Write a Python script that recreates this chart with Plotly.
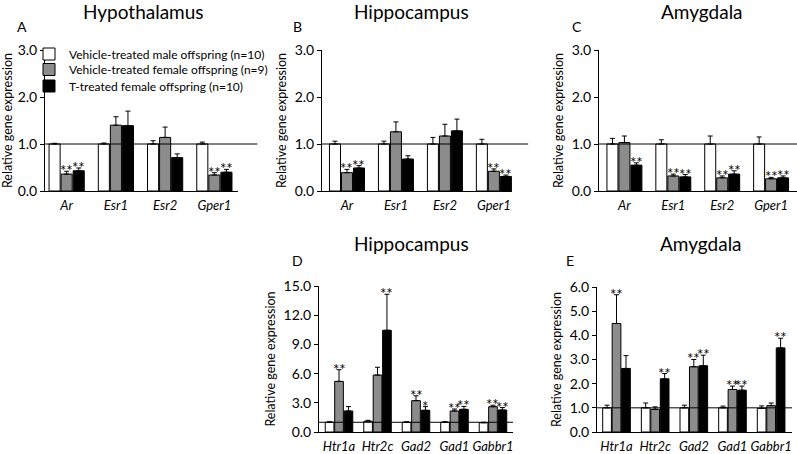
import plotly.graph_objects as go

genes_top = ["Ar", "Esr1", "Esr2", "Gper1"]
genes_bottom = ["Htr1a", "Htr2c", "Gad2", "Gad1", "Gabbr1"]
series_names = ["Vehicle-treated male offspring (n=10)",
                "Vehicle-treated female offspring (n=9)",
                "T-treated female offspring (n=10)"]

# Panel A - Hypothalamus
a_male = [1.00, 1.00, 1.00, 1.00]
a_male_err = [0.015, 0.02, 0.07, 0.04]
a_vfem = [0.36, 1.40, 1.14, 0.34]
a_vfem_err = [0.06, 0.18, 0.22, 0.05]
a_tfem = [0.43, 1.39, 0.71, 0.40]
a_tfem_err = [0.06, 0.31, 0.08, 0.06]
a_sig_v = ["**", "", "", "**"]
a_sig_t = ["**", "", "", "**"]

# Panel B - Hippocampus
b_male = [1.00, 1.00, 1.00, 1.00]
b_male_err = [0.06, 0.06, 0.14, 0.10]
b_vfem = [0.39, 1.26, 1.17, 0.42]
b_vfem_err = [0.07, 0.21, 0.25, 0.05]
b_tfem = [0.49, 0.68, 1.28, 0.31]
b_tfem_err = [0.05, 0.07, 0.25, 0.03]
b_sig_v = ["**", "", "", "**"]
b_sig_t = ["**", "", "", "**"]

# Panel C - Amygdala
c_male = [1.00, 1.00, 1.00, 1.00]
c_male_err = [0.12, 0.09, 0.17, 0.15]
c_vfem = [1.03, 0.32, 0.28, 0.26]
c_vfem_err = [0.14, 0.04, 0.04, 0.03]
c_tfem = [0.55, 0.30, 0.36, 0.28]
c_tfem_err = [0.05, 0.05, 0.07, 0.04]
c_sig_v = ["", "**", "**", "**"]
c_sig_t = ["**", "**", "**", "**"]

# Panel D - Hippocampus
d_male = [1.00, 1.10, 1.00, 1.00, 0.95]
d_male_err = [0.05, 0.10, 0.05, 0.05, 0.05]
d_vfem = [5.20, 5.85, 3.22, 2.16, 2.60]
d_vfem_err = [1.20, 0.80, 0.50, 0.20, 0.15]
d_tfem = [2.16, 10.45, 2.23, 2.33, 2.26]
d_tfem_err = [0.45, 3.70, 0.38, 0.30, 0.25]
d_sig_v = ["**", "", "**", "**", "**"]
d_sig_t = ["", "**", "*", "**", "**"]

# Panel E - Amygdala
e_male = [1.00, 1.00, 1.00, 1.00, 0.98]
e_male_err = [0.11, 0.20, 0.11, 0.07, 0.10]
e_vfem = [4.49, 0.94, 2.70, 1.76, 1.09]
e_vfem_err = [1.19, 0.10, 0.30, 0.14, 0.11]
e_tfem = [2.63, 2.20, 2.74, 1.73, 3.48]
e_tfem_err = [0.53, 0.22, 0.44, 0.17, 0.40]
e_sig_v = ["**", "", "**", "**", ""]
e_sig_t = ["", "**", "**", "**", "**"]

FONT = "Lato, Open Sans, sans-serif"
colors = ["#ffffff", "#8c8c8c", "#000000"]
offsets = [-0.245, 0.0, 0.245]
bar_w = 0.225

W, H = 797, 454


def px_x(a, b):
    return [a / W, b / W]


def px_y(bottom, top):
    return [(H - bottom) / H, (H - top) / H]


panels = [
    dict(genes=genes_top, vals=[a_male, a_vfem, a_tfem], errs=[a_male_err, a_vfem_err, a_tfem_err],
         sig=[None, a_sig_v, a_sig_t], dx=px_x(45, 238), dy=px_y(191, 50), xr=[-0.44, 3.48],
         yr=[0, 3], dt=1.0, title="Hypothalamus", tcx=143, tcy=12, letter="A", lx=22, ly=26,
         legend=True, hx1=1.10),
    dict(genes=genes_top, vals=[b_male, b_vfem, b_tfem], errs=[b_male_err, b_vfem_err, b_tfem_err],
         sig=[None, b_sig_v, b_sig_t], dx=px_x(322, 512), dy=px_y(191, 50), xr=[-0.51, 3.37],
         yr=[0, 3], dt=1.0, title="Hippocampus", tcx=411, tcy=12, letter="B", lx=297, ly=26,
         legend=False, hx1=1.085),
    dict(genes=genes_top, vals=[c_male, c_vfem, c_tfem], errs=[c_male_err, c_vfem_err, c_tfem_err],
         sig=[None, c_sig_v, c_sig_t], dx=px_x(599, 797), dy=px_y(191, 50), xr=[-0.52, 3.53],
         yr=[0, 3], dt=1.0, title="Amygdala", tcx=702, tcy=12, letter="C", lx=577, ly=26,
         legend=False, hx1=1.0),
    dict(genes=genes_bottom, vals=[d_male, d_vfem, d_tfem], errs=[d_male_err, d_vfem_err, d_tfem_err],
         sig=[None, d_sig_v, d_sig_t], dx=px_x(319, 513), dy=px_y(432, 286), xr=[-0.52, 4.52],
         yr=[0, 15], dt=3.0, title="Hippocampus", tcx=411, tcy=243, letter="D", lx=297, ly=260,
         legend=False, hx1=1.0),
    dict(genes=genes_bottom, vals=[e_male, e_vfem, e_tfem], errs=[e_male_err, e_vfem_err, e_tfem_err],
         sig=[None, e_sig_v, e_sig_t], dx=px_x(597, 792), dy=px_y(432, 287), xr=[-0.505, 4.54],
         yr=[0, 6], dt=1.0, title="Amygdala", tcx=701, tcy=243, letter="E", lx=570, ly=260,
         legend=False, hx1=1.0),
]

legend_names = ["legend", "legend2", "legend3"]
legend_rows = [54, 69.5, 86]

fig = go.Figure()
layout = dict(width=W, height=H, margin=dict(l=0, r=0, t=0, b=0, autoexpand=False),
              paper_bgcolor="white", plot_bgcolor="white",
              font=dict(family=FONT, size=13, color="black"),
              barmode="overlay", showlegend=True,
              shapes=[], annotations=[])
for ln, ry in zip(legend_names, legend_rows):
    layout[ln] = dict(x=29 / W, y=(H - ry) / H, xanchor="left", yanchor="middle",
                      font=dict(size=12, family=FONT), bgcolor="rgba(0,0,0,0)",
                      tracegroupgap=0, itemwidth=30, borderwidth=0)

for pi, p in enumerate(panels):
    n = pi + 1
    xa = "x" if n == 1 else f"x{n}"
    ya = "y" if n == 1 else f"y{n}"
    xkey = "xaxis" if n == 1 else f"xaxis{n}"
    ykey = "yaxis" if n == 1 else f"yaxis{n}"
    idx = list(range(len(p["genes"])))
    for k in range(3):
        xs = [i + offsets[k] for i in idx]
        fig.add_trace(go.Bar(
            x=xs, y=p["vals"][k], width=bar_w, name=series_names[k],
            marker=dict(color=colors[k], line=dict(color="black", width=1)),
            error_y=dict(type="data", symmetric=False, array=p["errs"][k],
                         arrayminus=[0] * len(idx), color="black", thickness=1, width=2.5),
            showlegend=p["legend"], legend=legend_names[k], xaxis=xa, yaxis=ya,
            hoverinfo="skip"))
        if p["sig"][k] is not None:
            for xv, v, e, s in zip(xs, p["vals"][k], p["errs"][k], p["sig"][k]):
                if s:
                    layout["annotations"].append(dict(
                        x=xv, y=v + e, xref=xa, yref=ya, text=s, showarrow=False,
                        xanchor="center", yanchor="middle", yshift=1,
                        font=dict(size=15, family=FONT, color="#000000")))
    ymax = p["yr"][1]
    ticks = [round(t * p["dt"], 6) for t in range(int(round(ymax / p["dt"])) + 1)]
    layout[xkey] = dict(domain=p["dx"], range=p["xr"], anchor=ya, showgrid=False, zeroline=False,
                        showline=True, linecolor="black", linewidth=1, ticks="",
                        tickvals=idx, ticktext=[f"<i>{g}</i>" for g in p["genes"]],
                        tickfont=dict(size=13, family=FONT), fixedrange=True, automargin=False,
                        ticklabelstandoff=2, tickangle=0)
    layout[ykey] = dict(domain=p["dy"], range=p["yr"], anchor=xa, showgrid=False, zeroline=False,
                        showline=True, linecolor="black", linewidth=1, ticks="outside",
                        ticklen=4, tickwidth=1, tickcolor="black", tickvals=ticks,
                        tickformat=".1f", tickfont=dict(size=14, family=FONT), automargin=False,
                        fixedrange=True,
                        title=dict(text="Relative gene expression", font=dict(size=12.5, family=FONT),
                                   standoff=5))
    layout["shapes"].append(dict(type="line", xref=f"{xa} domain", yref=ya, x0=0, x1=p["hx1"],
                                 y0=1, y1=1, line=dict(color="black", width=1), layer="above"))
    layout["annotations"].append(dict(text=p["title"], xref="paper", yref="paper",
                                      x=p["tcx"] / W, y=(H - p["tcy"]) / H,
                                      xanchor="center", yanchor="middle", showarrow=False,
                                      font=dict(size=19, family=FONT)))
    layout["annotations"].append(dict(text=p["letter"], xref="paper", yref="paper",
                                      x=p["lx"] / W, y=(H - p["ly"]) / H,
                                      xanchor="center", yanchor="middle", showarrow=False,
                                      font=dict(size=14, family=FONT)))

fig.update_layout(**layout)
fig.write_html("out.html", config={"displayModeBar": False},
               post_script="document.body.style.margin='0';")
